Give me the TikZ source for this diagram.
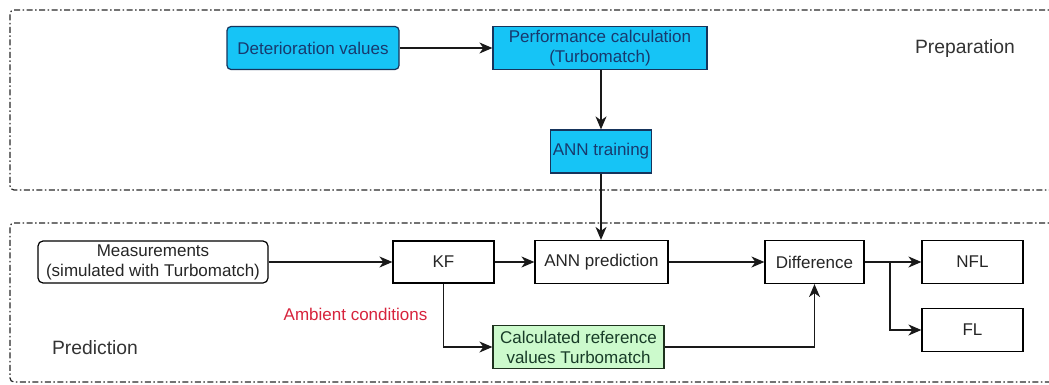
\documentclass[tikz,border=0pt]{standalone}
\usepackage{fontspec}
\setmainfont{Liberation Sans}
\usetikzlibrary{arrows.meta}
\definecolor{cyanfill}{RGB}{22,196,246}
\definecolor{cyanedge}{RGB}{22,52,92}
\definecolor{cyantext}{RGB}{24,58,110}
\definecolor{greenfill}{RGB}{204,250,204}
\definecolor{greenedge}{RGB}{30,50,30}
\definecolor{greentext}{RGB}{24,60,40}
\definecolor{ambient}{RGB}{215,35,60}
\definecolor{frame}{RGB}{40,40,40}
\tikzset{
  box/.style={draw=black, line width=1.2pt, fill=white, inner sep=0pt, align=center,
    font=\fontsize{17}{20}\selectfont, text=black!85},
  prep/.style={box, draw=cyanedge, fill=cyanfill, text=cyantext},
  refbox/.style={box, draw=greenedge, fill=greenfill, text=greentext},
  flow/.style={draw=black!90, line width=1.5pt, -{Stealth[length=13pt,width=11pt,inset=4pt]}},
  region/.style={draw=frame, line width=1.2pt, dash pattern=on 6pt off 2.5pt on 1.5pt off 2.5pt, rounded corners=4pt},
  tag/.style={font=\fontsize{19.3}{22}\selectfont, text=black!80},
}
\begin{document}
\begin{tikzpicture}[x=1pt, y=-1pt]
  \useasboundingbox (0,0) rectangle (1049,385);
  \fill[white] (0,0) rectangle (1049,385);

  % group frames (they run past the right edge)
  \begin{scope}
    \clip (0,0) rectangle (1049,385);
    \draw[region] (1070,10) -- (10,10) -- (10,190) -- (1070,190);
    \draw[region] (1070,223) -- (10,223) -- (10,382) -- (1070,382);
  \end{scope}

  % preparation stage
  \node[prep, rounded corners=4pt, minimum width=172pt, minimum height=43pt] (det) at (313,48) {Deterioration values};
  \node[prep, minimum width=214pt, minimum height=43pt] (perf) at (600,48) {Performance calculation\\(Turbomatch)};
  \node[prep, minimum width=101pt, minimum height=43pt] (train) at (601,151.5) {ANN training};
  \node[tag] (preplabel) at (965,49) {Preparation};

  % prediction stage
  \node[box, rounded corners=5pt, minimum width=230pt, minimum height=42pt] (meas) at (153,262) {Measurements\\(simulated with Turbomatch)};
  \node[box, minimum width=101pt, minimum height=42pt] (kf) at (443.5,262) {KF};
  \node[box, minimum width=133pt, minimum height=43pt] (annp) at (601.5,262) {ANN prediction};
  \node[box, minimum width=99pt, minimum height=43pt] (diff) at (814.5,262) {Difference};
  \node[box, minimum width=101pt, minimum height=43pt] (nfl) at (972.5,262) {NFL};
  \node[box, minimum width=101pt, minimum height=43pt] (fl) at (972.5,330) {FL};
  \node[refbox, minimum width=171pt, minimum height=43pt] (ref) at (578.5,347) {Calculated reference\\values Turbomatch};
  \node[font=\fontsize{17}{20}\selectfont, text=ambient] (amb) at (355.5,314) {Ambient conditions};
  \node[tag] (predlabel) at (95,348) {Prediction};

  % connectors
  \coordinate (split) at (890,262);
  \draw[flow] (det) -- (perf);
  \draw[flow] (perf.south -| train) -- (train);
  \draw[flow] (train) -- (annp.north -| train);
  \draw[flow] (meas) -- (kf);
  \draw[flow] (kf) -- (annp);
  \draw[flow] (annp) -- (diff);
  \draw[flow] (kf.south) |- (ref.west);
  \draw[flow] (ref.east) -| (diff.south);
  \draw[flow] (diff.east) -- (split) -- (nfl.west);
  \draw[flow] (split) |- (fl.west);
\end{tikzpicture}
\end{document}
